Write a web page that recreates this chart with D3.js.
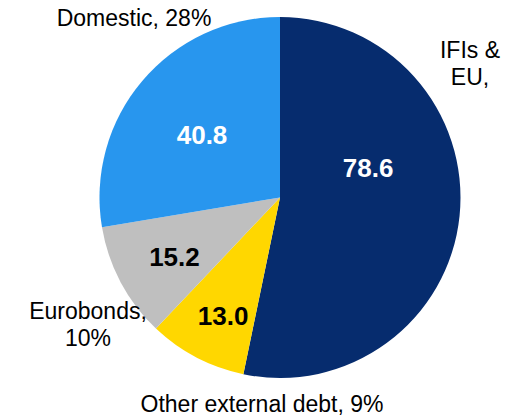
<!DOCTYPE html>
<html>
<head>
<meta charset="utf-8">
<script src="https://cdn.jsdelivr.net/npm/d3@7"></script>
<style>
  html, body { margin: 0; padding: 0; background: #ffffff; }
  svg { display: block; font-family: "Liberation Sans", Arial, sans-serif; }
</style>
</head>
<body>
<svg id="chart" width="531" height="417"></svg>
<script>
// Public debt structure, by creditor type
const categories = ["IFIs & EU", "Other external debt", "Eurobonds", "Domestic"];
const values = [78.6, 13.0, 15.2, 40.8];
const shareLabels = [["IFIs &", "EU,"], ["Other external debt, 9%"], ["Eurobonds,", "10%"], ["Domestic, 28%"]];

const colors = ["#062c6e", "#ffd700", "#bfbfbf", "#2896ee"];
const valueColors = ["#ffffff", "#000000", "#000000", "#ffffff"];

// Value label placement: angle shift (deg) from slice mid-angle, radius
const valuePos = [
  { shift: -24.4, r: 93 },
  { shift: -1.8, r: 131 },
  { shift: -1.2, r: 121 },
  { shift: -1.5, r: 100 }
];
// Category label anchors (relative to the pie centre), first-line baseline
const namePos = [
  { dx: 190, dy: -140 },
  { dx: -18, dy: 214 },
  { dx: -192, dy: 121 },
  { dx: -146, dy: -172 }
];

const width = 531, height = 417;
const cx = 280, cy = 197.5, radius = 180.5;

const svg = d3.select("#chart");
const g = svg.append("g").attr("transform", `translate(${cx},${cy})`);

const pie = d3.pie().sort(null).value(d => d)(values);
const arc = d3.arc().innerRadius(0).outerRadius(radius);

g.selectAll("path.slice")
  .data(pie)
  .join("path")
  .attr("class", "slice")
  .attr("d", arc)
  .attr("fill", (d, i) => colors[i]);

// slice values
g.selectAll("text.value")
  .data(pie)
  .join("text")
  .attr("class", "value")
  .attr("transform", (d, i) => {
    const a = (d.startAngle + d.endAngle) / 2 + valuePos[i].shift * Math.PI / 180;
    const r = valuePos[i].r;
    return `translate(${r * Math.sin(a)},${-r * Math.cos(a)})`;
  })
  .attr("text-anchor", "middle")
  .attr("dy", "0.36em")
  .attr("font-size", 26)
  .attr("font-weight", "bold")
  .attr("fill", (d, i) => valueColors[i])
  .text(d => d3.format(".1f")(d.data));

// category names with shares
const names = g.selectAll("text.name")
  .data(shareLabels)
  .join("text")
  .attr("class", "name")
  .attr("text-anchor", "middle")
  .attr("font-size", 23)
  .attr("fill", "#000000")
  .attr("x", (d, i) => namePos[i].dx)
  .attr("y", (d, i) => namePos[i].dy);

names.selectAll("tspan")
  .data((d, i) => d.map(line => ({ line, i })))
  .join("tspan")
  .attr("x", d => namePos[d.i].dx)
  .attr("dy", (d, j) => j === 0 ? 0 : 27)
  .text(d => d.line);
</script>
</body>
</html>
